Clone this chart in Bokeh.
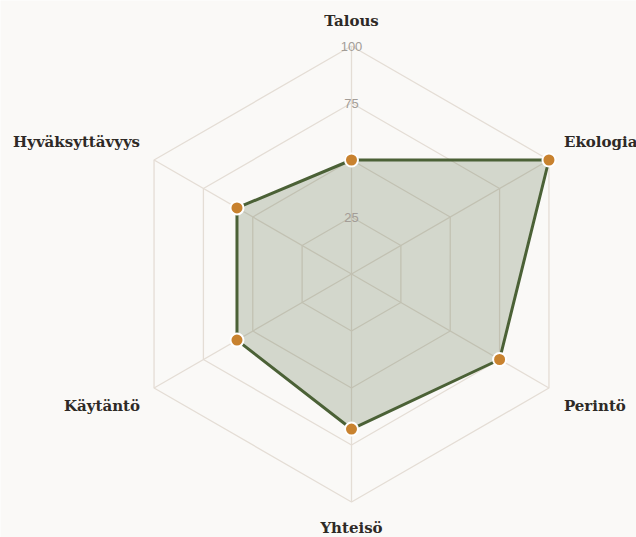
import numpy as np
from bokeh.plotting import figure
from bokeh.models import Range1d
from bokeh.core.properties import value
from bokeh.embed import file_html
from bokeh.resources import INLINE

categories = ["Talous", "Ekologia", "Perintö", "Yhteisö", "Käytäntö", "Hyväksyttävyys"]
scores = [50, 100, 75, 68, 58, 58]
grid_levels = [25, 50, 75, 100]
tick_labels = ["25", "50", "75", "100"]

BG = "#faf9f7"
GRID = "#e4ddd5"
LINE = "#4b6136"
DOT = "#c8822f"

n = len(categories)
angles = np.pi / 2 - np.arange(n) * 2 * np.pi / n

scale = 2.28  # px per unit
W, H = 636, 537
cx, cy = 351, 273.5
p = figure(width=W, height=H, output_backend="svg", toolbar_location=None,
           x_range=Range1d(-cx / scale, (W - cx) / scale),
           y_range=Range1d(-(H - cy) / scale, cy / scale),
           min_border=0, background_fill_color=BG, border_fill_color=BG,
           outline_line_color=None)
p.axis.visible = False
p.grid.visible = False

# grid hexagons
for lvl in grid_levels:
    xs = list(lvl * np.cos(angles)) + [lvl * np.cos(angles[0])]
    ys = list(lvl * np.sin(angles)) + [lvl * np.sin(angles[0])]
    p.line(xs, ys, line_color=GRID, line_width=1.3)
# spokes
for a in angles:
    p.line([0, 100 * np.cos(a)], [0, 100 * np.sin(a)], line_color=GRID, line_width=1.3)

vals = np.array(scores, dtype=float)
px = vals * np.cos(angles)
py = vals * np.sin(angles)
p.patch(list(px), list(py), fill_color=LINE, fill_alpha=0.22, line_color=None)

# tick labels along top axis
p.text(x=[0] * len(grid_levels), y=grid_levels, text=tick_labels,
       text_font=value("Liberation Sans"), text_font_size="13px",
       text_color="#a39d97", text_align="center", text_baseline="middle")

p.line(list(px) + [px[0]], list(py) + [py[0]], line_color=LINE, line_width=3)
p.scatter(px, py, size=13, fill_color=DOT, line_color="white", line_width=2)

# category labels
aligns = ["center", "left", "left", "center", "right", "right"]
xoffs = [0, 15, 15, 0, -14, -14]
yoffs = [-25, -18, 18, 26, 18, -18]
lx = 100 * np.cos(angles)
ly = 100 * np.sin(angles)
for i in range(n):
    p.text(x=[lx[i]], y=[ly[i]], text=[categories[i]],
           text_font=value("DejaVu Serif"), text_font_style="bold",
           text_font_size="15px", text_color="#2e2a26",
           text_align=aligns[i], text_baseline="middle",
           x_offset=xoffs[i], y_offset=yoffs[i])

open("out.html", "w").write(file_html(p, INLINE))
